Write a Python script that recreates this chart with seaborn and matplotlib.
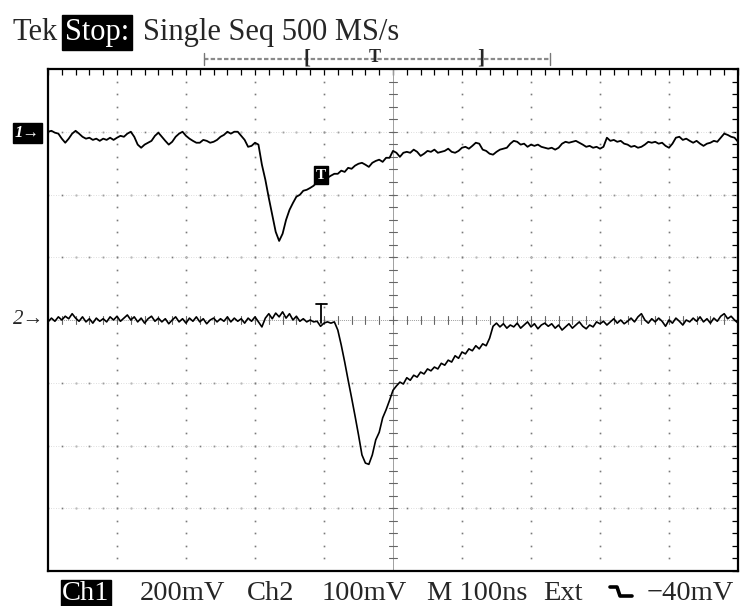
import numpy as np
import pandas as pd
import seaborn as sns
import matplotlib.pyplot as plt
from matplotlib.lines import Line2D
from matplotlib.ticker import MultipleLocator

sns.set_style("white")
plt.rcParams['font.family'] = ['Liberation Serif', 'DejaVu Sans']

# scope record: 100 ns/div, 10 div, one sample every 5 ns
time_ns = np.arange(0, 1001, 5)

# Ch1 (200 mV/div), relative to its ground marker
ch1_mv = [0, 3, -3, -6, -22, -35, -22, -6, 3, -6,
          -16, -22, -19, -26, -22, -29, -22, -26, -19, -26,
          -19, -13, -16, -6, 0, -16, -41, -51, -41, -35,
          -29, -13, -3, -16, -29, -41, -32, -16, -6, 0,
          -13, -22, -29, -35, -35, -26, -29, -35, -32, -26,
          -16, -10, 0, -6, 0, 0, -13, -26, -48, -45,
          -35, -41, -105, -153, -211, -265, -319, -348, -325, -281,
          -249, -227, -207, -201, -188, -185, -179, -172, -160, -147,
          -140, -147, -140, -134, -134, -124, -128, -115, -118, -108,
          -102, -99, -105, -112, -99, -93, -89, -96, -83, -83,
          -61, -67, -80, -67, -64, -67, -57, -64, -77, -70,
          -61, -64, -57, -67, -64, -61, -54, -64, -67, -61,
          -51, -48, -54, -45, -35, -38, -57, -61, -70, -73,
          -64, -57, -54, -51, -38, -29, -32, -41, -38, -48,
          -41, -45, -41, -48, -51, -54, -51, -57, -51, -38,
          -32, -35, -32, -29, -35, -41, -48, -45, -51, -48,
          -54, -48, -19, -29, -26, -32, -29, -38, -41, -48,
          -45, -51, -48, -41, -32, -35, -32, -38, -35, -45,
          -51, -38, -19, -16, -26, -22, -29, -35, -29, -38,
          -45, -38, -35, -29, -32, -19, -6, -10, -16, -19,
          -32]

# Ch2 (100 mV/div), relative to its ground marker
ch2_mv = [-3, 3, -2, 5, 0, 6, 2, 10, 3, -2,
          5, -3, 2, -5, 3, -2, 2, -3, 5, 0,
          6, -2, 3, 8, 0, 5, -3, 3, -5, 2,
          6, -2, 3, -3, 2, -6, 0, 5, -3, 2,
          -5, 3, -2, 5, -3, 2, -6, 0, 3, -3,
          2, -2, 5, -3, 3, -2, 2, -5, 3, -2,
          5, -3, -11, 3, 10, 2, 11, 5, 13, 3,
          10, 0, 6, -2, 2, -3, 0, -3, -2, -10,
          -5, -3, -5, -3, -16, -40, -67, -96, -124, -153,
          -183, -215, -228, -230, -215, -191, -179, -156, -143, -128,
          -112, -105, -99, -102, -92, -96, -88, -91, -83, -86,
          -78, -81, -75, -78, -69, -72, -64, -67, -57, -61,
          -51, -54, -46, -49, -41, -46, -38, -41, -29, -10,
          -5, -11, -6, -13, -8, -11, -5, -13, -8, -3,
          -11, -6, -14, -8, -5, -10, -6, -13, -8, -16,
          -11, -6, -13, -8, -3, -10, -14, -8, -11, -3,
          -6, -2, -8, -3, 2, -5, 0, -6, -2, 3,
          -3, 5, 10, 0, -5, 2, -3, 3, -2, -10,
          0, -5, 3, -2, -8, 0, -3, 3, -2, 5,
          -3, 2, -5, 3, -2, 6, 10, 2, 6, 0,
          -5]

ch1_offset_div = 3
ch1_scale_mv = 200
ch2_scale_mv = 100

df = pd.DataFrame({
    "time_ns": time_ns,
    "ch1": ch1_offset_div + np.array(ch1_mv) / ch1_scale_mv,
    "ch2": np.array(ch2_mv) / ch2_scale_mv,
})

W, H = 753, 606
fig = plt.figure(figsize=(W / 100, H / 100), dpi=100)
ax = fig.add_axes([48 / W, 35 / H, 690 / W, 502 / H])
ax.set_xlim(0, 1000)
ax.set_ylim(-4, 4)

# dotted graticule
dot = dict(linestyle='none', marker='s', ms=1.2, color='#7a7a7a', mew=0)
for k in range(1, 10):
    if k == 5:
        continue
    ax.plot([k * 100] * 41, np.linspace(-4, 4, 41), **dot)
for k in range(-3, 4):
    if k == 0:
        continue
    ax.plot(np.arange(0, 1001, 20), [k] * 51, **dot)
    ax.plot([0, 1000], [k, k], color='#d4d4d4', lw=0.6, ls=(0, (1, 2)))

# centre cross with fine ticks
ax.plot([500, 500], [-4, 4], color='#a0a0a0', lw=0.7)
ax.plot([0, 1000], [0, 0], color='#a0a0a0', lw=0.7, ls=(0, (1, 1)))
for yy in np.linspace(-4, 4, 41):
    ax.plot([494, 506], [yy, yy], color='#666666', lw=0.8)
for xx in np.arange(0, 1001, 20):
    ax.plot([xx, xx], [-0.07, 0.07], color='#666666', lw=0.8)

sns.lineplot(data=df, x="time_ns", y="ch1", color='black', lw=1.3,
             estimator=None, ax=ax)
sns.lineplot(data=df, x="time_ns", y="ch2", color='black', lw=1.2,
             estimator=None, ax=ax)

ax.xaxis.set_major_locator(MultipleLocator(100))
ax.xaxis.set_minor_locator(MultipleLocator(20))
ax.yaxis.set_major_locator(MultipleLocator(1))
ax.yaxis.set_minor_locator(MultipleLocator(0.2))
ax.tick_params(which='both', direction='in', top=True, right=True,
               labelbottom=False, labelleft=False, length=4, width=0.9,
               color='black')
ax.set_xlabel('')
ax.set_ylabel('')
for sp in ax.spines.values():
    sp.set_visible(True)
    sp.set_color('black')
    sp.set_linewidth(1.6)

# trigger markers on the traces
ax.text(396, 2.31, 'T', color='white', fontsize=11, fontweight='bold',
        ha='center', va='center',
        bbox=dict(facecolor='black', edgecolor='black', pad=1.5))
ax.plot([388, 404], [0.26, 0.26], color='black', lw=1.3)
ax.plot([396, 396], [0.26, -0.04], color='black', lw=1.3)


def fx(px):
    return px / W


def fy(py):
    return 1 - py / H


# header
fig.text(fx(13), fy(40), 'Tek', fontsize=22, va='baseline')
fig.text(fx(65), fy(40), 'Stop:', fontsize=22, va='baseline', color='white',
         bbox=dict(facecolor='black', edgecolor='black', pad=2.0))
fig.text(fx(143), fy(40), 'Single Seq 500 MS/s', fontsize=22, va='baseline')

# record window indicator
fig.add_artist(Line2D([fx(204), fx(550)], [fy(59), fy(59)], color='#8a8a8a',
                      lw=1.6, ls=(0, (2, 1))))
for px in (204, 550):
    fig.add_artist(Line2D([fx(px), fx(px)], [fy(53), fy(65)],
                          color='#777777', lw=1.0))
fig.text(fx(307), fy(59), '[', fontsize=15, fontweight='bold', ha='center', va='center')
fig.text(fx(375), fy(58), 'T', fontsize=13, fontweight='bold', ha='center', va='center')
fig.text(fx(481), fy(59), ']', fontsize=15, fontweight='bold', ha='center', va='center')

# channel ground markers
fig.text(fx(15), fy(133), '1\u2192', fontsize=12, color='white', style='italic',
         fontweight='bold', va='center',
         bbox=dict(facecolor='black', edgecolor='black', pad=1.4))
fig.text(fx(13), fy(320), '2\u2192', fontsize=15, style='italic', va='center')

# footer
fs = 20.5
fig.text(fx(62), fy(600), 'Ch1', fontsize=fs, va='baseline', color='white',
         bbox=dict(facecolor='black', edgecolor='black', pad=1.0))
fig.text(fx(140), fy(600), '200mV', fontsize=fs, va='baseline')
fig.text(fx(247), fy(600), 'Ch2', fontsize=fs, va='baseline')
fig.text(fx(322), fy(600), '100mV', fontsize=fs, va='baseline')
fig.text(fx(427), fy(600), 'M 100ns', fontsize=fs, va='baseline')
fig.text(fx(543), fy(600), 'Ext', fontsize=fs, va='baseline')
fig.add_artist(Line2D([fx(610), fx(617), fx(620), fx(632)],
                      [fy(587), fy(587), fy(596), fy(596)],
                      color='black', lw=2.6))
fig.text(fx(647), fy(600), '\u221240mV', fontsize=fs, va='baseline')

fig.savefig('out.png', dpi=100)
